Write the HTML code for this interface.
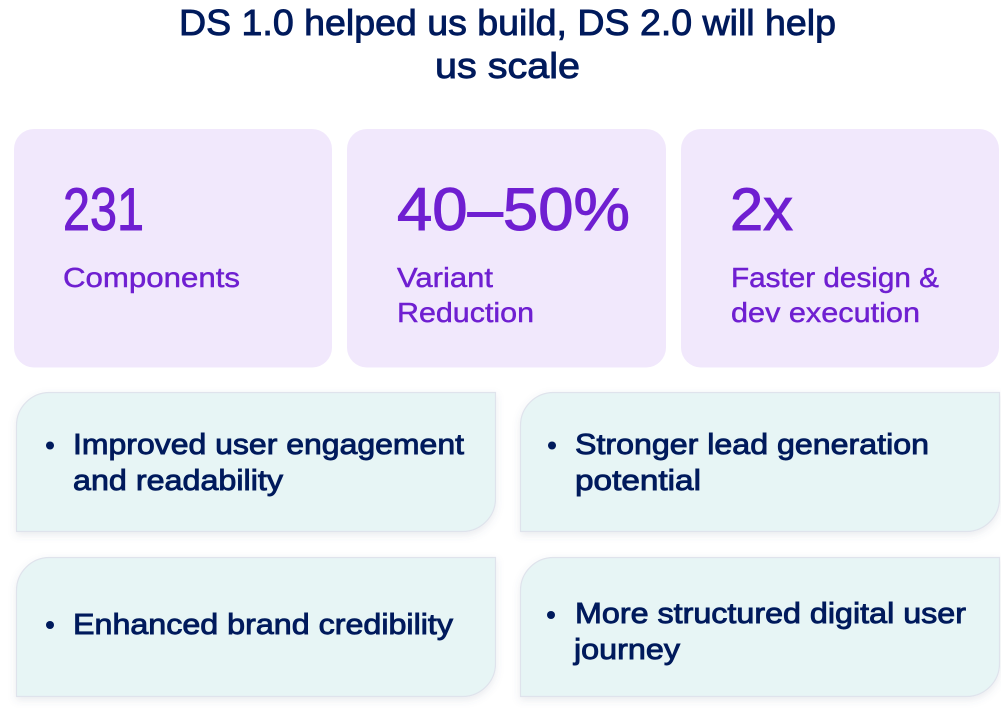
<!DOCTYPE html>
<html><head><meta charset="utf-8"><style>
html,body{margin:0;padding:0;background:#fff;width:1001px;height:715px;overflow:hidden}
svg{display:block}
text{font-family:"Liberation Sans",sans-serif}
.t{fill:#001a5c;font-size:36px;stroke:#001a5c;stroke-width:.9px}
.n{fill:#6f1fd1;font-size:60px;stroke:#6f1fd1;stroke-width:1px}
.l{fill:#6f1fd1;font-size:28px;stroke:#6f1fd1;stroke-width:.45px}
.b{fill:#001a5c;font-size:29px;stroke:#001a5c;stroke-width:.9px}
.c{fill:#e7f5f5;stroke:#dfe3ec;stroke-width:1.2;filter:url(#s)}
</style></head><body>
<svg width="1001" height="715" viewBox="0 0 1001 715" xmlns="http://www.w3.org/2000/svg">
<defs><filter id="s" x="-5%" y="-10%" width="110%" height="125%"><feDropShadow dx="0" dy="3" stdDeviation="4" flood-color="#5a6080" flood-opacity=".13"/></filter></defs>
<text class="t" x="179" y="35" textLength="657" lengthAdjust="spacingAndGlyphs">DS 1.0 helped us build, DS 2.0 will help</text>
<text class="t" x="435" y="78" textLength="145" lengthAdjust="spacingAndGlyphs">us scale</text>

<rect x="14" y="129" width="318" height="238.500" rx="20" fill="#f1e8fc"/>
<rect x="347" y="129" width="319" height="238.500" rx="20" fill="#f1e8fc"/>
<rect x="681" y="129" width="318" height="238.500" rx="20" fill="#f1e8fc"/>

<text class="n" x="63" y="230" textLength="81" lengthAdjust="spacingAndGlyphs">231</text>
<text class="n" x="397" y="230" textLength="233" lengthAdjust="spacingAndGlyphs">40–50%</text>
<text class="n" x="730" y="230" textLength="63" lengthAdjust="spacingAndGlyphs">2x</text>

<text class="l" x="63" y="287" textLength="177" lengthAdjust="spacingAndGlyphs">Components</text>
<text class="l" x="397" y="287" textLength="96" lengthAdjust="spacingAndGlyphs">Variant</text>
<text class="l" x="397" y="322" textLength="137" lengthAdjust="spacingAndGlyphs">Reduction</text>
<text class="l" x="731" y="287" textLength="208" lengthAdjust="spacingAndGlyphs">Faster design &amp;</text>
<text class="l" x="731" y="322" textLength="189" lengthAdjust="spacingAndGlyphs">dev execution</text>

<path class="c" d="M49.500 392.500H495.500V498.500A33 33 0 0 1 462.500 531.500H16.500V425.500A33 33 0 0 1 49.500 392.500Z"/>
<path class="c" d="M553.500 392.500H999.500V498.500A33 33 0 0 1 966.500 531.500H520.500V425.500A33 33 0 0 1 553.500 392.500Z"/>
<path class="c" d="M49.500 557.500H495.500V663.500A33 33 0 0 1 462.500 696.500H16.500V590.500A33 33 0 0 1 49.500 557.500Z"/>
<path class="c" d="M553.500 557.500H999.500V663.500A33 33 0 0 1 966.500 696.500H520.500V590.500A33 33 0 0 1 553.500 557.500Z"/>

<circle cx="50" cy="445.500" r="4" fill="#001a5c"/>
<circle cx="552" cy="445.500" r="4" fill="#001a5c"/>
<circle cx="50" cy="625" r="4" fill="#001a5c"/>
<circle cx="551" cy="615" r="4" fill="#001a5c"/>

<text class="b" x="73" y="454" textLength="391" lengthAdjust="spacingAndGlyphs">Improved user engagement</text>
<text class="b" x="73" y="490" textLength="210" lengthAdjust="spacingAndGlyphs">and readability</text>
<text class="b" x="575" y="454" textLength="354" lengthAdjust="spacingAndGlyphs">Stronger lead generation</text>
<text class="b" x="575" y="490" textLength="126" lengthAdjust="spacingAndGlyphs">potential</text>
<text class="b" x="73" y="634" textLength="380" lengthAdjust="spacingAndGlyphs">Enhanced brand credibility</text>
<text class="b" x="575" y="623" textLength="391" lengthAdjust="spacingAndGlyphs">More structured digital user</text>
<text class="b" x="574" y="659" textLength="106" lengthAdjust="spacingAndGlyphs">journey</text>
</svg>
</body></html>
